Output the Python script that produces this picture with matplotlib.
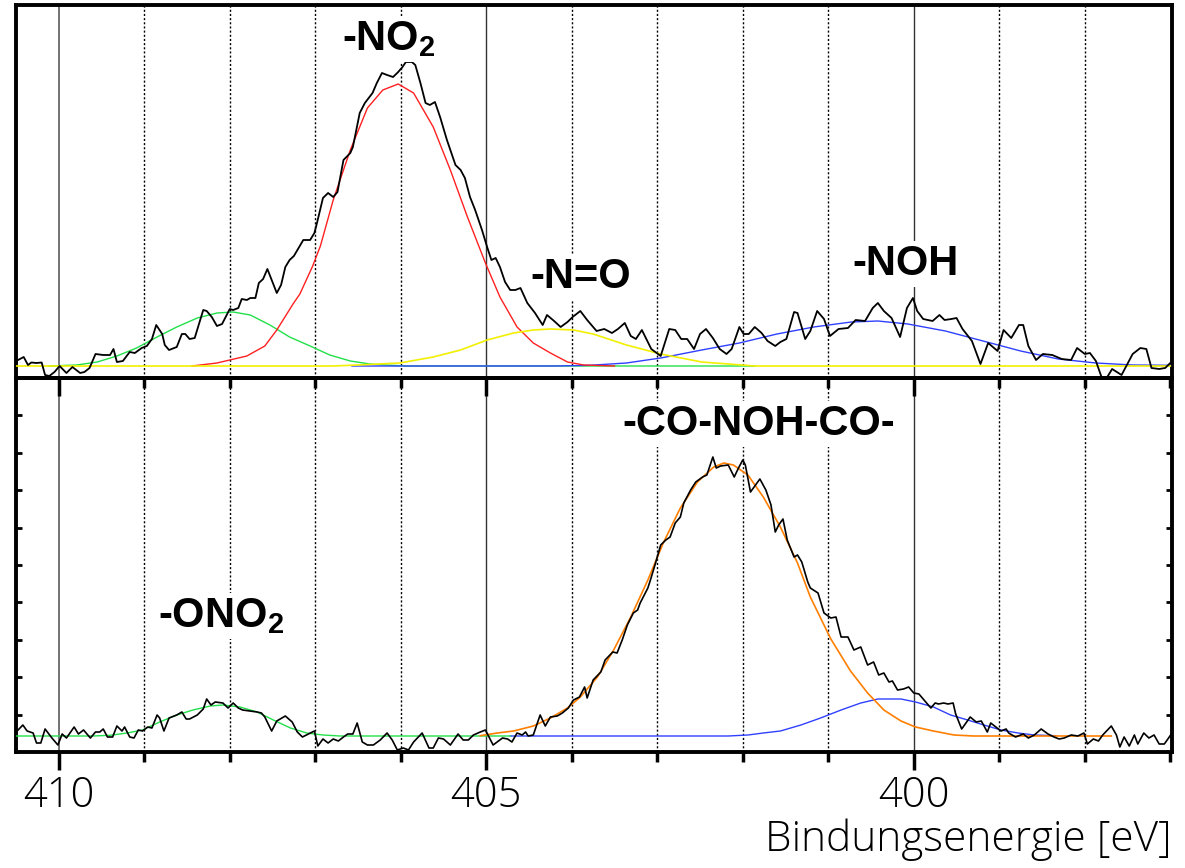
import numpy as np
import matplotlib
matplotlib.use("Agg")
import matplotlib.pyplot as plt

plt.rcParams['mathtext.fontset'] = 'custom'
plt.rcParams['mathtext.rm'] = 'Liberation Sans:bold'
plt.rcParams['mathtext.bf'] = 'Liberation Sans:bold'

# --- upper spectrum: measured N1s signal (binding energy [eV], intensity) ---
top_raw = [
    (410.52, 4), (410.41, 9), (410.36, 1), (410.32, 3.5), (410.26, 3), (410.20, 3.5),
    (410.16, -9), (410.11, -10), (410.05, -6), (409.99, 0), (409.91, -7), (409.84, -1),
    (409.75, -7), (409.70, -6), (409.64, -2), (409.57, 12), (409.48, 11), (409.40, 11),
    (409.36, 17), (409.32, 4), (409.25, 5), (409.17, 14), (409.11, 13), (409.03, 18),
    (408.97, 20), (408.91, 27), (408.86, 41), (408.79, 32), (408.76, 21), (408.71, 16),
    (408.62, 19), (408.56, 32), (408.52, 32), (408.47, 27), (408.41, 28), (408.31, 56),
    (408.27, 55), (408.21, 49), (408.15, 40), (408.09, 42), (408.00, 57), (407.96, 56),
    (407.90, 58), (407.86, 67), (407.80, 66), (407.76, 68), (407.70, 68), (407.66, 83),
    (407.61, 87), (407.56, 97), (407.51, 86), (407.45, 73), (407.40, 81), (407.35, 99),
    (407.30, 106), (407.25, 110), (407.14, 126), (407.06, 126), (407.01, 133), (406.98, 143),
    (406.91, 168), (406.85, 173), (406.79, 169), (406.74, 174), (406.67, 206), (406.59, 213),
    (406.56, 219), (406.48, 253), (406.42, 263), (406.33, 273), (406.28, 283), (406.22, 293),
    (406.16, 291), (406.09, 289), (406.03, 294), (405.98, 299), (405.94, 304), (405.87, 304),
    (405.83, 301), (405.77, 283), (405.71, 263), (405.66, 261), (405.60, 264), (405.54, 249),
    (405.46, 226), (405.36, 201), (405.30, 196), (405.25, 188), (405.19, 169), (405.13, 156),
    (405.05, 136), (404.99, 119), (404.94, 106), (404.89, 108), (404.84, 99), (404.78, 84),
    (404.72, 76), (404.66, 76), (404.60, 78), (404.52, 63), (404.43, 53), (404.34, 41),
    (404.29, 51), (404.22, 46), (404.13, 39), (404.05, 44), (403.99, 49), (403.96, 51),
    (403.90, 55), (403.82, 46), (403.71, 35), (403.62, 37), (403.53, 33), (403.46, 37),
    (403.38, 43), (403.31, 30), (403.25, 27), (403.18, 36), (403.07, 17), (402.96, 10),
    (402.86, 37), (402.79, 36), (402.72, 27), (402.65, 27), (402.57, 17), (402.50, 32),
    (402.43, 37), (402.35, 28), (402.27, 17), (402.19, 12), (402.13, 17), (402.04, 39),
    (401.99, 32), (401.93, 32), (401.86, 39), (401.78, 33), (401.71, 25), (401.62, 20),
    (401.56, 24), (401.49, 27), (401.40, 54), (401.36, 53), (401.27, 27), (401.21, 35),
    (401.13, 55), (401.05, 47), (400.98, 30), (400.88, 37), (400.77, 38), (400.68, 46),
    (400.57, 45), (400.48, 58), (400.42, 63), (400.35, 55), (400.26, 48), (400.16, 29),
    (400.08, 58), (400.01, 68), (399.96, 55), (399.89, 47), (399.78, 45), (399.70, 51),
    (399.64, 46), (399.56, 47), (399.50, 48), (399.43, 37), (399.32, 25), (399.22, 2),
    (399.13, 23), (399.02, 15), (398.95, 36), (398.86, 28), (398.77, 41), (398.72, 41),
    (398.66, 20), (398.57, 6), (398.49, 12), (398.38, 11), (398.27, 7), (398.16, 6),
    (398.09, 18), (398.00, 12), (397.94, 13), (397.87, 5), (397.78, -17), (397.68, -3),
    (397.57, -9), (397.44, 12), (397.35, 18), (397.28, 17), (397.22, -2), (397.13, -3),
    (397.06, -2), (397.00, 3),
]

# fitted components, upper spectrum
top_ono2 = [
    (410.11, 0), (409.79, 1), (409.55, 4), (409.32, 10), (409.09, 18), (408.85, 29),
    (408.62, 39), (408.38, 48), (408.15, 53), (407.96, 54), (407.76, 51), (407.53, 41),
    (407.30, 29), (407.06, 20), (406.83, 11), (406.59, 5), (406.36, 2), (406.12, 0.7),
    (405.92, 0), (401.86, 0),
]
top_no2 = [
    (408.44, 0), (408.15, 3), (407.80, 10), (407.59, 20), (407.45, 36), (407.26, 62),
    (407.18, 72), (407.03, 100), (406.94, 120), (406.79, 166), (406.59, 216), (406.39, 258),
    (406.21, 276), (406.03, 282), (405.85, 273), (405.62, 239), (405.42, 196), (405.22, 149),
    (405.01, 103), (404.84, 69), (404.64, 39), (404.45, 23), (404.25, 13), (404.05, 4),
    (403.86, 1), (403.50, 0),
]
top_no = [
    (410.50, 0), (406.80, 0), (406.50, 1), (406.01, 3), (405.62, 9), (405.30, 16),
    (404.99, 26), (404.68, 33), (404.45, 36), (404.25, 37), (403.98, 36), (403.75, 32),
    (403.36, 21), (402.96, 12), (402.48, 4), (401.86, 0), (397.00, 0),
]
top_noh = [
    (406.57, 0), (404.20, 0), (403.79, 0.7), (403.36, 3), (402.96, 8), (402.48, 16),
    (402.04, 23), (401.60, 32), (401.17, 39), (400.73, 44), (400.42, 45), (400.07, 42),
    (399.63, 35), (399.19, 25), (398.75, 15), (398.31, 7), (397.87, 3), (397.44, 1),
    (397.00, 0.7),
]

# --- lower spectrum ---
bot_raw = [
    (410.52, 2), (410.42, 11), (410.37, 5), (410.30, 3), (410.26, -7), (410.21, -7),
    (410.16, 7), (410.08, -2), (410.01, -9), (409.96, 2), (409.91, -2), (409.82, 9),
    (409.77, 2), (409.71, 6), (409.63, -2), (409.57, 4), (409.52, 4), (409.48, 7),
    (409.43, -1), (409.37, -1), (409.32, 10), (409.26, 5), (409.23, 9), (409.17, -1),
    (409.12, -2), (409.07, 6), (409.02, 5), (408.96, 9), (408.91, 8), (408.85, 21),
    (408.82, 18), (408.77, 5), (408.71, 18), (408.62, 21), (408.56, 24), (408.51, 17),
    (408.47, 17), (408.38, 21), (408.31, 27), (408.27, 37), (408.22, 31), (408.17, 34),
    (408.08, 33), (408.02, 28), (407.96, 33), (407.90, 28), (407.85, 26), (407.76, 25),
    (407.68, 24), (407.63, 23), (407.59, 19), (407.51, 5), (407.45, 15), (407.35, 20),
    (407.27, 14), (407.21, 4), (407.15, -1), (407.08, 2), (407.01, 5), (406.97, -10),
    (406.91, -3), (406.85, -7), (406.79, -3), (406.73, -5), (406.67, -1), (406.62, 2),
    (406.56, 2), (406.51, 13), (406.45, -6), (406.39, -9), (406.32, -9), (406.24, -4),
    (406.16, 3), (406.10, -4), (406.04, -14), (405.97, -12), (405.91, -14), (405.85, -6),
    (405.75, 3), (405.67, -12), (405.62, -12), (405.56, -2), (405.50, -3), (405.42, -9),
    (405.33, 2), (405.27, -4), (405.21, -4), (405.15, 1), (405.07, 4), (405.01, 6),
    (404.92, -9), (404.81, -2), (404.75, -3), (404.70, -6), (404.64, 3), (404.58, 1),
    (404.54, 4), (404.51, 0), (404.45, 1), (404.37, 21), (404.31, 10), (404.25, 19),
    (404.17, 20), (404.11, 23), (404.04, 28), (403.98, 36), (403.91, 39), (403.85, 49),
    (403.82, 38), (403.75, 56), (403.66, 64), (403.61, 76), (403.52, 84), (403.47, 83),
    (403.41, 96), (403.35, 111), (403.28, 123), (403.23, 126), (403.20, 133), (403.11, 148),
    (403.08, 156), (403.02, 173), (402.96, 191), (402.90, 196), (402.85, 199), (402.79, 213),
    (402.73, 219), (402.69, 233), (402.61, 246), (402.55, 254), (402.47, 259), (402.42, 261),
    (402.35, 279), (402.31, 268), (402.26, 270), (402.17, 271), (402.10, 259), (402.05, 268),
    (402.00, 276), (401.97, 271), (401.91, 244), (401.85, 251), (401.80, 257), (401.73, 246),
    (401.67, 231), (401.62, 204), (401.58, 211), (401.53, 217), (401.48, 196), (401.40, 179),
    (401.36, 181), (401.31, 174), (401.24, 154), (401.21, 148), (401.12, 143), (401.05, 123),
    (400.97, 118), (400.91, 119), (400.85, 99), (400.77, 99), (400.70, 86), (400.62, 89),
    (400.54, 71), (400.47, 74), (400.41, 61), (400.35, 63), (400.29, 54), (400.25, 55),
    (400.19, 46), (400.12, 47), (400.06, 49), (400.00, 43), (399.94, 42), (399.86, 34),
    (399.80, 28), (399.75, 33), (399.71, 32), (399.65, 33), (399.60, 32), (399.54, 33),
    (399.51, 22), (399.44, 7), (399.34, 19), (399.27, 14), (399.21, 15), (399.14, 4),
    (399.10, 13), (399.04, 9), (398.98, 5), (398.92, 7), (398.89, 3), (398.81, -1),
    (398.72, 2), (398.66, -2), (398.59, 1), (398.51, 7), (398.43, 2), (398.36, -1),
    (398.30, -3), (398.24, -2), (398.16, 1), (398.08, 0), (398.01, 3), (397.97, -8),
    (397.90, -3), (397.84, -5), (397.79, 1), (397.69, 10), (397.63, 1), (397.59, -11),
    (397.54, -1), (397.48, -10), (397.42, 1), (397.38, -8), (397.31, 3), (397.25, -2),
    (397.19, 1), (397.13, -8), (397.07, -8), (397.02, -2), (396.98, 3),
]

bot_ono2 = [
    (410.52, 0), (409.60, 0), (409.40, 0.7), (409.20, 3), (409.02, 6), (408.82, 14),
    (408.62, 21), (408.43, 26), (408.23, 30), (408.08, 31), (407.88, 29), (407.68, 24),
    (407.49, 16), (407.29, 8), (407.10, 3), (406.91, 1), (406.71, 0), (404.72, 0),
]
bot_conohco = [
    (405.07, 0.3), (404.87, 3), (404.68, 5), (404.45, 10), (404.25, 18), (404.05, 28),
    (403.90, 39), (403.70, 59), (403.51, 86), (403.31, 119), (403.11, 156), (402.93, 193),
    (402.73, 228), (402.53, 254), (402.34, 269), (402.22, 273), (402.11, 271), (401.94, 261),
    (401.76, 239), (401.56, 209), (401.36, 173), (401.21, 139), (400.97, 97), (400.74, 65),
    (400.54, 43), (400.35, 26), (400.15, 15), (399.98, 9), (399.77, 5), (399.53, 1),
    (399.30, 0), (397.69, 0),
]
bot_noh = [
    (404.72, 0), (402.17, 0), (401.94, 1), (401.76, 3), (401.56, 5), (401.32, 11),
    (401.09, 18), (400.85, 26), (400.62, 33), (400.42, 37), (400.15, 37), (399.98, 34),
    (399.77, 29), (399.57, 21), (399.37, 16), (399.18, 11), (398.98, 6), (398.78, 3),
    (398.59, 1), (398.34, 0.3),
]

major_ev = [410, 405, 400]
minor_ev = [409, 408, 407, 406, 404, 403, 402, 401, 399, 398]

W, H = 1185, 868
fig = plt.figure(figsize=(W / 100, H / 100), dpi=100)
ax_top = fig.add_axes([16 / W, 1 - 378 / H, 1156 / W, 373 / H])
ax_bot = fig.add_axes([16 / W, 1 - 752 / H, 1156 / W, 374 / H])
ax_top.set_zorder(3)
ax_top.patch.set_alpha(0)


def draw(ax, series):
    for e in major_ev:
        ax.axvline(e, color='0.45' if e == 410 else '0.2', lw=1.4 if e == 410 else 1.0, zorder=1)
    for e in minor_ev:
        ax.axvline(e, color='black', lw=1.0, ls=(0, (1.5, 1.5)), zorder=1)
    for data, col, lw in series:
        x, y = np.array(data).T
        ax.plot(x, y, color=col, lw=lw, zorder=4 if col == 'black' else 3)
    ax.set_xlim(410.5, 396.98)
    for s in ax.spines.values():
        s.set_linewidth(2.8)
    ax.set_xticks(major_ev)
    ax.set_xticks(range(397, 411), minor=True)
    ax.tick_params(axis='x', which='major', direction='out', length=13, width=2.5)
    ax.tick_params(axis='x', which='minor', direction='out', length=7, width=2.5)


draw(ax_top, [(top_raw, 'black', 1.3), (top_ono2, '#22e04a', 1.0), (top_noh, '#3040ff', 1.0),
              (top_no2, '#ff2020', 1.0), (top_no, '#f2f000', 1.2)])
draw(ax_bot, [(bot_raw, 'black', 1.2), (bot_noh, '#3040ff', 1.0),
              (bot_ono2, '#22e04a', 1.0), (bot_conohco, '#ff7f00', 1.2)])

ax_top.set_ylim(-12, 361)
ax_top.set_yticks([])
ax_top.tick_params(axis='x', labelbottom=False)

ax_bot.set_ylim(-16, 358)
ax_bot.set_yticks(np.arange(21.4, 330, 37.4))
ax_bot.tick_params(axis='y', direction='in', length=4, width=2, left=True, right=True,
                   labelleft=False)
ax_bot.tick_params(axis='x', which='major', pad=3, labelsize=30)
for lab in ax_bot.get_xticklabels():
    lab.set_fontfamily('Open Sans')
    lab.set_fontweight('light')

fig.text(1172 / W, 1 - 851 / H, 'Bindungsenergie [eV]', ha='right', va='baseline',
         fontsize=30.5, family='Open Sans', weight='light')

box = dict(facecolor='white', edgecolor='none', pad=2)
lab_kw = dict(fontsize=30, family='Liberation Sans', weight='bold', ha='center',
              va='baseline', zorder=5, bbox=box)
ax_top.text(406.14, 316, r'-NO$_{\mathbf{2}}$', **lab_kw)
ax_top.text(403.90, 78, '-N=O', **lab_kw)
ax_top.text(400.10, 91, '-NOH', **lab_kw)
ax_bot.text(401.81, 301, '-CO-NOH-CO-', **lab_kw)
ax_bot.text(408.10, 109, r'-ONO$_{\mathbf{2}}$', **lab_kw)

fig.savefig('out.png', dpi=100)
